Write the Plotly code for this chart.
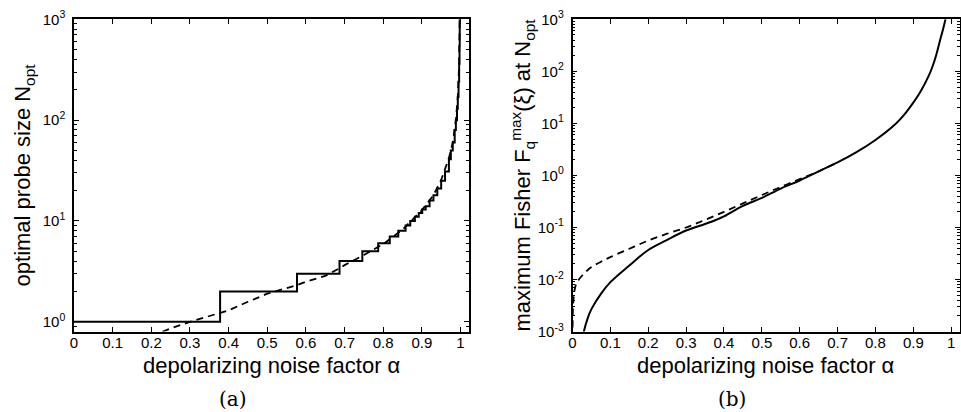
import plotly.graph_objects as go
import numpy as np

# ---------------- data ----------------
# panel (a): optimal probe size N_opt (solid: integer steps, dashed: continuous)
alpha_a_solid = [0.0, 0.378, 0.577, 0.687, 0.746, 0.787, 0.817, 0.839, 0.858, 0.870,
                 0.882, 0.892, 0.901, 0.91, 0.92, 0.93, 0.94, 0.95, 0.96, 0.97,
                 0.975, 0.98, 0.985, 0.988, 0.991, 0.993, 0.995, 0.9965, 0.9975, 0.998]
n_a_solid = [1, 2, 3, 4, 5, 6, 7, 8, 9, 10,
             11, 12, 13, 14, 16, 18, 21, 25, 31, 41,
             50, 60, 80, 100, 130, 170, 240, 360, 550, 1000]

alpha_a_dash = [0.20, 0.227, 0.25, 0.30, 0.35, 0.378, 0.40, 0.45, 0.50, 0.55,
                0.578, 0.60, 0.65, 0.687, 0.70, 0.75, 0.80, 0.85, 0.90, 0.93,
                0.95, 0.97, 0.98, 0.988, 0.993, 0.996, 0.998]
n_a_dash = [0.72, 0.80, 0.86, 1.00, 1.13, 1.22, 1.30, 1.58, 1.90, 2.16,
            2.32, 2.50, 2.85, 3.40, 3.65, 4.60, 5.90, 8.20, 12.8, 18.0,
            25.5, 42.0, 60.0, 100, 170, 320, 1000]

# panel (b): maximum Fisher information at N_opt
alpha_b_solid = [0.025, 0.03, 0.04, 0.05, 0.075, 0.10, 0.15, 0.20, 0.25, 0.30,
                 0.35, 0.38, 0.40, 0.45, 0.50, 0.55, 0.60, 0.65, 0.70, 0.75,
                 0.80, 0.85, 0.88, 0.90, 0.92, 0.94, 0.95, 0.96, 0.97, 0.978, 0.985]
f_b_solid = [0.0006, 0.001, 0.0018, 0.0027, 0.0053, 0.0089, 0.0186, 0.037, 0.058, 0.0875,
             0.117, 0.141, 0.163, 0.26, 0.37, 0.56, 0.80, 1.20, 1.78, 2.80,
             4.8, 9.3, 16, 25, 42, 80, 120, 200, 380, 620, 1000]

alpha_b_dash = [0.0002, 0.0008, 0.002, 0.005, 0.01, 0.02, 0.035, 0.05, 0.075, 0.10,
                0.15, 0.20, 0.25, 0.30, 0.35, 0.40, 0.45, 0.50, 0.55, 0.60,
                0.62, 0.65, 0.70]
f_b_dash = [0.0012, 0.0022, 0.0036, 0.0060, 0.0083, 0.0107, 0.0140, 0.0174, 0.022, 0.027,
            0.039, 0.056, 0.076, 0.100, 0.140, 0.200, 0.290, 0.420, 0.600, 0.850,
            0.970, 1.20, 1.78]

# tick labels
x_tickvals = [0, 0.1, 0.2, 0.3, 0.4, 0.5, 0.6, 0.7, 0.8, 0.9, 1.0]
x_ticktext = ["0", "0.1", "0.2", "0.3", "0.4", "0.5", "0.6", "0.7", "0.8", "0.9", "1"]
ya_tickvals = [1, 10, 100, 1000]
ya_ticktext = ["10<sup>0</sup>", "10<sup>1</sup>", "10<sup>2</sup>", "10<sup>3</sup>"]
yb_tickvals = [1e-3, 1e-2, 1e-1, 1, 10, 100, 1000]
yb_ticktext = ["10<sup>-3</sup>", "10<sup>-2</sup>", "10<sup>-1</sup>", "10<sup>0</sup>",
               "10<sup>1</sup>", "10<sup>2</sup>", "10<sup>3</sup>"]

x_title = "depolarizing noise factor α"
ya_title = "optimal probe size N<sub>opt</sub>"
yb_title = "maximum Fisher F<sub>q</sub><sup>max</sup>(ξ) at N<sub>opt</sub>"
panel_labels = ["(a)", "(b)"]

# ---------------- figure ----------------
W, H = 961, 412
FONT = "Liberation Sans, Arial, Helvetica, sans-serif"
solid = dict(color="black", width=2)
dashed = dict(color="black", width=1.8, dash="7px,5px")

fig = go.Figure()
fig.add_trace(go.Scatter(x=alpha_a_dash, y=n_a_dash, mode="lines", line=dashed,
                         xaxis="x", yaxis="y", showlegend=False))
fig.add_trace(go.Scatter(x=alpha_a_solid, y=n_a_solid, mode="lines", line=solid,
                         line_shape="hv", xaxis="x", yaxis="y", showlegend=False))
fig.add_trace(go.Scatter(x=alpha_b_dash, y=f_b_dash, mode="lines", line=dashed,
                         line_shape="spline", xaxis="x2", yaxis="y2", showlegend=False))
fig.add_trace(go.Scatter(x=alpha_b_solid, y=f_b_solid, mode="lines", line=solid,
                         line_shape="spline", xaxis="x2", yaxis="y2", showlegend=False))

y_top = 1 - 19.3 / H
y_bot = 1 - 331.6 / H
dom_a = [74 / W, 469 / W]
dom_b = [572.5 / W, 959.5 / W]

common_x = dict(range=[0, 1.022], tickmode="array", tickvals=x_tickvals, ticktext=x_ticktext,
                ticks="inside", ticklen=5, tickwidth=1, tickcolor="black",
                showline=True, linecolor="black", linewidth=1.5, mirror="ticks",
                showgrid=False, zeroline=False, automargin=False,
                tickfont=dict(family=FONT, size=15, color="black"),
                ticklabelstandoff=-3)
common_y = dict(type="log", tickmode="array",
                ticks="inside", ticklen=5, tickwidth=1, tickcolor="black",
                minor=dict(ticks="inside", ticklen=3, tickwidth=1, tickcolor="black",
                           dtick="D1", showgrid=False),
                showline=True, linecolor="black", linewidth=1.5, mirror="ticks",
                showgrid=False, zeroline=False, automargin=False,
                tickfont=dict(family=FONT, size=15, color="black"),
                ticklabelstandoff=4)

fig.update_layout(
    width=W, height=H,
    margin=dict(l=0, r=0, t=0, b=0),
    paper_bgcolor="white", plot_bgcolor="white",
    xaxis=dict(domain=dom_a, anchor="y", **common_x),
    xaxis2=dict(domain=dom_b, anchor="y2", **common_x),
    yaxis=dict(domain=[y_bot, y_top], anchor="x", range=[np.log10(0.8), 3],
               tickvals=ya_tickvals, ticktext=ya_ticktext,
               title=dict(text=ya_title, font=dict(family=FONT, size=22, color="black"), standoff=6),
               **common_y),
    yaxis2=dict(domain=[y_bot, y_top], anchor="x2", range=[-3, 3],
                tickvals=yb_tickvals, ticktext=yb_ticktext,
                title=dict(text=yb_title, font=dict(family=FONT, size=22, color="black"), standoff=0),
                **common_y),
)

# x-axis titles (placed as annotations to sit tight under the tick labels)
for dom in (dom_a, dom_b):
    fig.add_annotation(text=x_title, x=(dom[0] + dom[1]) / 2, y=1 - 365 / H,
                       xref="paper", yref="paper", showarrow=False,
                       xanchor="center", yanchor="middle",
                       font=dict(family=FONT, size=22, color="black"))

for lbl, cx in zip(panel_labels, [233, 731.5]):
    fig.add_annotation(text=lbl, x=cx / W, y=1 - 399 / H, xref="paper", yref="paper",
                       showarrow=False, xanchor="center", yanchor="middle",
                       font=dict(family="DejaVu Serif, serif", size=20, color="black"))

fig.write_html("out.html", config={"displayModeBar": False},
               post_script="document.body.style.margin='0px';document.body.style.overflow='hidden';")
